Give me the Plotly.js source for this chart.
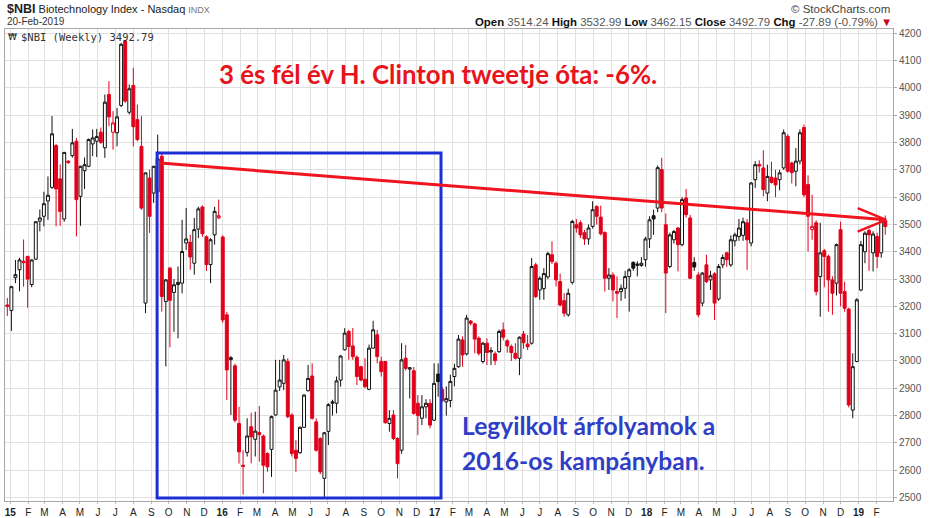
<!DOCTYPE html>
<html><head><meta charset="utf-8">
<script src="https://cdn.plot.ly/plotly-3.0.1.min.js"></script>
<style>html,body{margin:0;padding:0;background:#fff;}#chart{width:930px;height:518px;}</style>
</head><body><div id="chart"></div>
<script>
// ---- data: weekly $NBI candles, first week starting 2014-12-29 ----
const firstWeek = '2014-12-29';
const openP = [
3205,3185,3305,3334,3365,3383,3280,3373,3512,3530,
3586,3636,3789,3667,3520,3732,3752,3805,3603,3697,
3713,3795,3805,3838,3781,3976,3838,3836,3936,4172,
3911,4009,3884,3786,3212,3670,3615,3620,3750,3218,
3340,3251,3280,3285,3432,3435,3358,3483,3564,3455,
3353,3462,3524,3454,3169,3005,2982,2771,2618,2665,
2759,2713,2738,2725,2661,2676,2802,2905,2918,2998,
2802,2673,2664,2757,2891,2945,2777,2716,2570,2742,
2845,2845,2930,3041,3108,3055,3014,2979,2933,2896,
3047,3096,2998,2998,2771,2802,2716,2673,3010,2970,
2964,2845,2790,2832,2845,2783,2952,2895,2850,2855,
2943,2979,3077,3026,3146,3136,3083,2998,3065,3033,
3026,3034,3114,3074,3053,3028,3010,3099,3062,3065,
3352,3260,3265,3308,3389,3358,3291,3221,3169,3288,
3499,3506,3470,3447,3493,3566,3527,3470,3303,3315,
3254,3254,3266,3309,3361,3350,3350,3371,3447,3532,
3560,3701,3499,3346,3444,3487,3426,3597,3524,3361,
3315,3212,3352,3297,3319,3227,3352,3396,3352,3440,
3456,3460,3506,3432,3664,3720,3707,3615,3673,3670,
3664,3707,3823,3725,3695,3732,3855,3646,3481,3506,
3309,3404,3383,3297,3285,3481,3254,3190,2820,2998,
3260,3400,3478,3396,3456,3396,3514.24];
const highP = [
3231,3275,3370,3378,3445,3385,3372,3512,3555,3620,
3676,3897,3795,3720,3765,3735,3850,3817,3715,3745,
3815,3848,3850,3855,3976,4025,3915,3927,4165,4176,
4013,4074,3939,3897,3690,3701,3715,3829,3760,3300,
3345,3300,3346,3517,3560,3462,3524,3565,3570,3460,
3450,3565,3591,3460,3180,3018,2990,2832,2673,2790,
2810,2814,2835,2730,2665,2800,3004,3004,3022,3010,
2808,2710,2760,2878,2985,2991,2790,2720,2740,2845,
2858,2943,3022,3120,3114,3121,3020,2982,3010,3060,
3147,3114,3016,3000,2820,2820,2720,3065,3059,2978,
2978,2875,2875,2860,2860,2991,2991,2905,2907,2950,
2990,3095,3090,3169,3150,3140,3090,3070,3083,3050,
3035,3115,3141,3080,3060,3065,3090,3110,3095,3377,
3360,3310,3340,3400,3438,3365,3320,3248,3265,3517,
3520,3515,3480,3500,3585,3570,3569,3475,3340,3325,
3309,3280,3330,3340,3365,3365,3380,3455,3530,3554,
3716,3744,3540,3470,3480,3490,3600,3630,3535,3380,
3325,3325,3389,3330,3325,3355,3390,3400,3460,3470,
3520,3525,3520,3655,3732,3735,3772,3719,3730,3700,
3700,3848,3830,3730,3780,3848,3866,3680,3609,3515,
3506,3410,3390,3310,3430,3510,3290,3195,3028,3230,
3440,3475,3485,3475,3470,3524,3532.99];
const lowP = [
3165,3110,3285,3255,3272,3195,3270,3370,3475,3493,
3517,3630,3493,3495,3510,3722,3745,3456,3495,3630,
3710,3750,3747,3795,3744,3860,3774,3786,3930,3945,
3903,3786,3805,3554,3175,3469,3579,3600,3181,2980,
3050,3107,3083,3248,3407,3334,3316,3450,3455,3330,
3285,3426,3520,3140,2857,2802,2775,2624,2510,2650,
2625,2650,2631,2515,2594,2575,2800,2890,2893,2790,
2650,2594,2660,2755,2888,2785,2668,2585,2502,2692,
2800,2808,2906,3038,3004,3004,2912,2925,2900,2893,
3045,2991,2943,2770,2741,2710,2570,2660,2965,2863,
2803,2728,2765,2790,2753,2780,2869,2850,2800,2830,
2907,2975,2979,3020,3130,3028,3020,2991,2985,2985,
2985,3030,3075,3030,3000,3005,2948,3045,3040,3060,
3230,3224,3224,3300,3355,3273,3200,3162,3162,3280,
3470,3450,3425,3426,3485,3500,3460,3254,3260,3218,
3157,3220,3228,3181,3330,3310,3345,3345,3414,3462,
3545,3545,3175,3340,3430,3328,3420,3525,3300,3330,
3160,3200,3285,3260,3150,3220,3340,3345,3345,3420,
3440,3440,3334,3420,3634,3690,3603,3585,3650,3600,
3625,3700,3690,3650,3640,3720,3600,3401,3444,3240,
3162,3270,3181,3169,3240,3200,3180,2830,2790,2995,
3255,3358,3330,3328,3340,3378,3462.15];
const closeP = [
3200,3272,3316,3370,3360,3300,3370,3510,3524,3576,
3607,3832,3630,3548,3764,3727,3799,3591,3713,3719,
3811,3817,3822,3801,3948,3894,3872,3894,4160,3952,
3997,3858,3811,3560,3689,3530,3713,3740,3236,3297,
3222,3279,3288,3401,3447,3381,3481,3557,3466,3353,
3444,3548,3532,3150,2967,3012,2783,2667,2614,2725,
2722,2743,2730,2618,2612,2796,2893,2930,3004,2796,
2661,2643,2757,2875,2936,2790,2673,2594,2737,2840,
2850,2927,3018,3102,3053,3016,2943,2930,2906,3047,
3114,3016,2961,2774,2790,2716,2624,3004,2973,2975,
2808,2800,2832,2845,2765,2918,2924,2855,2862,2925,
2973,3080,3022,3157,3138,3080,3028,3065,3031,3038,
3001,3108,3087,3055,3031,3010,3087,3067,3052,3346,
3236,3303,3320,3393,3364,3297,3205,3175,3248,3511,
3487,3462,3447,3487,3554,3530,3466,3303,3315,3260,
3248,3266,3309,3334,3340,3355,3358,3447,3517,3520,
3708,3560,3322,3462,3474,3426,3591,3536,3303,3344,
3169,3322,3291,3312,3212,3346,3379,3371,3444,3462,
3487,3510,3444,3652,3719,3714,3628,3676,3654,3645,
3689,3836,3695,3690,3732,3836,3609,3530,3493,3254,
3396,3383,3297,3248,3426,3248,3193,2839,2979,3224,
3426,3468,3462,3465,3383,3520.68,3492.79];
const closeBeforeStart = 3215;
const monthLetters = ['J','F','M','A','M','J','J','A','S','O','N','D'];
const yTicks = [2500,2600,2700,2800,2900,3000,3100,3200,3300,3400,3500,3600,3700,3800,3900,4000,4100,4200];

// ---- helpers ----
const DAY = 86400000, WEEK = 7*DAY;
const T0 = Date.parse(firstWeek + 'T00:00:00Z');
function msStr(ms){ return new Date(ms).toISOString().replace('T',' ').slice(0,19); }
function weekPos(i){ return msStr(T0 + i*WEEK); }
const N = closeP.length;
const dates = [];
for (let i = 0; i < N; i++) dates.push(weekPos(i).slice(0,10));

const BLACK = '#111111', RED = '#e0001a';
function upVsPrev(i){ const pc = i === 0 ? closeBeforeStart : closeP[i-1]; return closeP[i] >= pc; }
function makeTrace(flag, col){
  const x=[],o=[],h=[],l=[],c=[];
  for (let i = 0; i < N; i++) if (upVsPrev(i) === flag) {
    x.push(dates[i]); o.push(openP[i]); h.push(highP[i]); l.push(lowP[i]); c.push(closeP[i]);
  }
  return {type:'candlestick', x:x, open:o, high:h, low:l, close:c,
    increasing:{line:{color:col,width:1}, fillcolor:'#ffffff'},
    decreasing:{line:{color:col,width:1}, fillcolor:col},
    whiskerwidth:0, hoverinfo:'skip', showlegend:false};
}
const traces = [makeTrace(true, BLACK), makeTrace(false, RED)];

// month ticks
const tickvals = [], ticktext = [];
for (let y = 2015; y <= 2019; y++) for (let m = 0; m < 12; m++) {
  if (y === 2019 && m > 1) break;
  tickvals.push(msStr(Date.UTC(y, m, 3)));
  ticktext.push(m === 0 ? '<b>' + String(y).slice(2) + '</b>' : monthLetters[m]);
}

// layout frame in pixels
const PL = 5, PR = 893, PT = 29, PB = 501;
function px(x){ return (x-PL)/(PR-PL); }
function py(y){ return (PB-y)/(PB-PT); }

function ann(x, y, text, font, xanchor){
  return {xref:'paper', yref:'paper', x:px(x), y:py(y), text:text, showarrow:false,
    xanchor:xanchor||'left', yanchor:'middle', font:font, borderpad:0};
}
const F = 'Liberation Sans, Arial, sans-serif';
const annotations = [
  ann(6, 9.5, "<span style='font-size:12.5px'><b>$NBI</b></span> Biotechnology Index - Nasdaq <span style='font-size:9px;color:#777'>INDX</span>", {family:F, size:11, color:'#222'}),
  ann(6, 22, '20-Feb-2019', {family:F, size:10, color:'#333'}),
  ann(891, 8.5, '© StockCharts.com', {family:F, size:11.5, color:'#444'}, 'right'),
  ann(893, 21.5, "<b>Open</b> <span style='color:#555'>3514.24</span> <b>High</b> <span style='color:#555'>3532.99</span> <b>Low</b> <span style='color:#555'>3462.15</span> <b>Close</b> <span style='color:#555'>3492.79</span> <b>Chg</b> <span style='color:#555'>-27.89 (-0.79%)</span> <span style='color:#d0021b'>▼</span>", {family:F, size:11.4, color:'#111'}, 'right'),
  ann(7, 36.5, '₩', {family:'DejaVu Sans', size:9, color:'#222'}),
  ann(20, 36.5, '$NBI (Weekly) 3492.79', {family:'DejaVu Sans Mono, monospace', size:10.5, color:'#333'}),
  ann(437.5, 74, '<b>3 és fél év H. Clinton tweetje óta: -6%.</b>', {family:'Lato, sans-serif', size:25.8, color:'#e8141c'}, 'center'),
  ann(461, 425, '<b>Legyilkolt árfolyamok a</b>', {family:'Lato, sans-serif', size:24.6, color:'#2f3ec6'}),
  ann(461, 460, '<b>2016-os kampányban.</b>', {family:'Lato, sans-serif', size:24.6, color:'#2f3ec6'})
];

const shapes = [
  {type:'rect', xref:'x', yref:'y', x0:weekPos(36.85), x1:weekPos(106.7), y0:2498, y1:3762,
   line:{color:'#1c2ed6', width:3}, fillcolor:'rgba(0,0,0,0)'},
  {type:'line', xref:'x', yref:'y', x0:weekPos(37.6), y0:3725, x1:weekPos(216.2), y1:3517,
   line:{color:'#f0141e', width:3}},
  {type:'line', xref:'x', yref:'y', x0:weekPos(209.2), y0:3560, x1:weekPos(216.2), y1:3517,
   line:{color:'#f0141e', width:2.5}},
  {type:'line', xref:'x', yref:'y', x0:weekPos(209.2), y0:3474, x1:weekPos(216.2), y1:3517,
   line:{color:'#f0141e', width:2.5}}
];

const layout = {
  width:930, height:518,
  margin:{l:PL, r:930-PR, t:PT, b:518-PB, pad:0},
  paper_bgcolor:'#ffffff', plot_bgcolor:'#ffffff',
  showlegend:false, boxgap:0.15, boxgroupgap:0.15,
  xaxis:{type:'date', range:[msStr(T0-0.57*WEEK), msStr(T0+217.9*WEEK)],
    rangeslider:{visible:false}, tickmode:'array', tickvals:tickvals, ticktext:ticktext,
    showgrid:true, gridcolor:'#e0e0e0', gridwidth:1, zeroline:false,
    showline:true, linecolor:'#a8a8a8', linewidth:1, mirror:true,
    ticks:'outside', ticklen:2, tickcolor:'#bbb',
    tickfont:{family:F, size:10, color:'#222'}, fixedrange:true},
  yaxis:{side:'right', range:[2487,4216], tickmode:'array', tickvals:yTicks,
    showgrid:true, gridcolor:'#e0e0e0', gridwidth:1, zeroline:false,
    showline:true, linecolor:'#a8a8a8', linewidth:1, mirror:true,
    ticks:'outside', ticklen:3, tickcolor:'#aaa',
    tickfont:{family:F, size:10, color:'#555'}, fixedrange:true},
  shapes:shapes, annotations:annotations
};

Plotly.newPlot('chart', traces, layout, {displayModeBar:false, staticPlot:true});
</script>
</body></html>
